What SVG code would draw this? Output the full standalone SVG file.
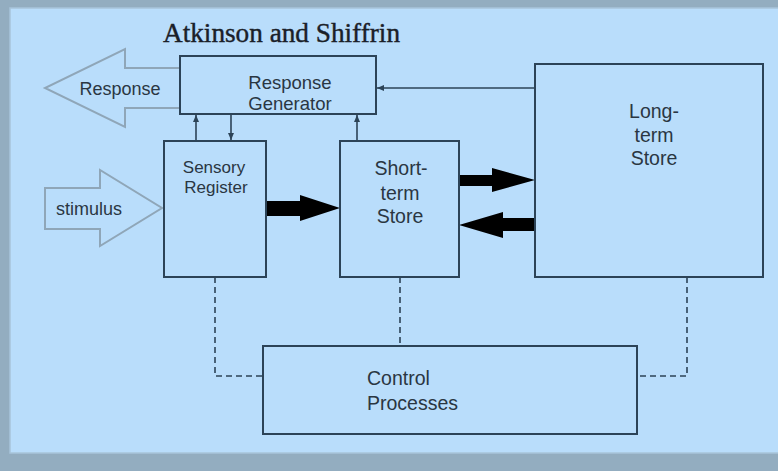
<svg xmlns="http://www.w3.org/2000/svg" width="778" height="471" viewBox="0 0 778 471">
<defs>
<style>
.box{fill:none;stroke:#2c4357;stroke-width:2}
.ln{fill:none;stroke:#2c4357;stroke-width:1.6}
.dash{fill:none;stroke:#2c4357;stroke-width:1.6;stroke-dasharray:6,4}
.lbl{font-family:"Liberation Sans",Arial,sans-serif;font-size:18px;fill:#2a3642;text-anchor:middle}
.big{font-size:19.5px}
.left{text-anchor:start}
.hollow{fill:none;stroke:#8fa6b8;stroke-width:2}
.thick{fill:#000}
</style>
<marker id="ah" markerWidth="8" markerHeight="8" refX="7" refY="4" orient="auto" markerUnits="userSpaceOnUse">
<path d="M0,1 L7,4 L0,7 z" fill="#2c4357"/>
</marker>
</defs>
<rect x="0" y="0" width="778" height="471" fill="#93adc0"/>
<rect x="10" y="8" width="770" height="445" fill="#b9ddfb" stroke="#a8c4da" stroke-width="1.5"/>
<text x="163" y="42" font-family="Liberation Serif,Times New Roman,serif" font-size="27" fill="#1a2028" stroke="#1a2028" stroke-width="0.4" textLength="237" lengthAdjust="spacingAndGlyphs">Atkinson and Shiffrin</text>

<g id="connectors">
<line class="ln" x1="196" y1="141" x2="196" y2="115" marker-end="url(#ah)"/>
<line class="ln" x1="231" y1="114" x2="231" y2="140" marker-end="url(#ah)"/>
<line class="ln" x1="357" y1="141" x2="357" y2="115" marker-end="url(#ah)"/>
<line class="ln" x1="535" y1="88" x2="377" y2="88" marker-end="url(#ah)"/>
<path class="dash" d="M215,277 V376 H263"/>
<line class="dash" x1="400" y1="277" x2="400" y2="346"/>
<path class="dash" d="M687,277 V376 H637"/>
<path class="thick" d="M266,201 H300 V195 L340,208 L300,221 V216 H266 z"/>
<path class="thick" d="M459,175 H492 V168 L535,180 L492,192 V186 H459 z"/>
<path class="thick" d="M535,218 H503 V212 L459,225 L503,238 V231 H535 z"/>
</g>

<g id="response">
<path class="hollow" d="M180,68 H125 V49 L45,88 L125,127 V108 H180"/>
<text class="lbl" x="120" y="95">Response</text>
</g>
<g id="stimulus">
<path class="hollow" d="M45,188 H100 V170 L162,208 L100,246 V229 H45 z"/>
<text class="lbl" x="89" y="215">stimulus</text>
</g>
<g id="response-generator">
<rect class="box" x="180" y="56" width="196" height="58"/>
<text class="lbl" x="290" y="89" style="font-size:18.5px">Response</text>
<text class="lbl" x="290" y="110" style="font-size:18.5px">Generator</text>
</g>
<g id="sensory-register">
<rect class="box" x="164" y="141" width="102" height="136"/>
<text class="lbl" x="214" y="173" style="font-size:17px">Sensory</text>
<text class="lbl" x="216" y="193" style="font-size:17px">Register</text>
</g>
<g id="short-term-store">
<rect class="box" x="340" y="141" width="119" height="136"/>
<text class="lbl big" x="401" y="175">Short-</text>
<text class="lbl big" x="400" y="200">term</text>
<text class="lbl big" x="400" y="223">Store</text>
</g>
<g id="long-term-store">
<rect class="box" x="535" y="64" width="228" height="213"/>
<text class="lbl big" x="654" y="118">Long-</text>
<text class="lbl big" x="654" y="142">term</text>
<text class="lbl big" x="654" y="165">Store</text>
</g>
<g id="control-processes">
<rect class="box" x="263" y="346" width="374" height="88"/>
<text class="lbl big left" x="367" y="385">Control</text>
<text class="lbl big left" x="367" y="410">Processes</text>
</g>
</svg>
